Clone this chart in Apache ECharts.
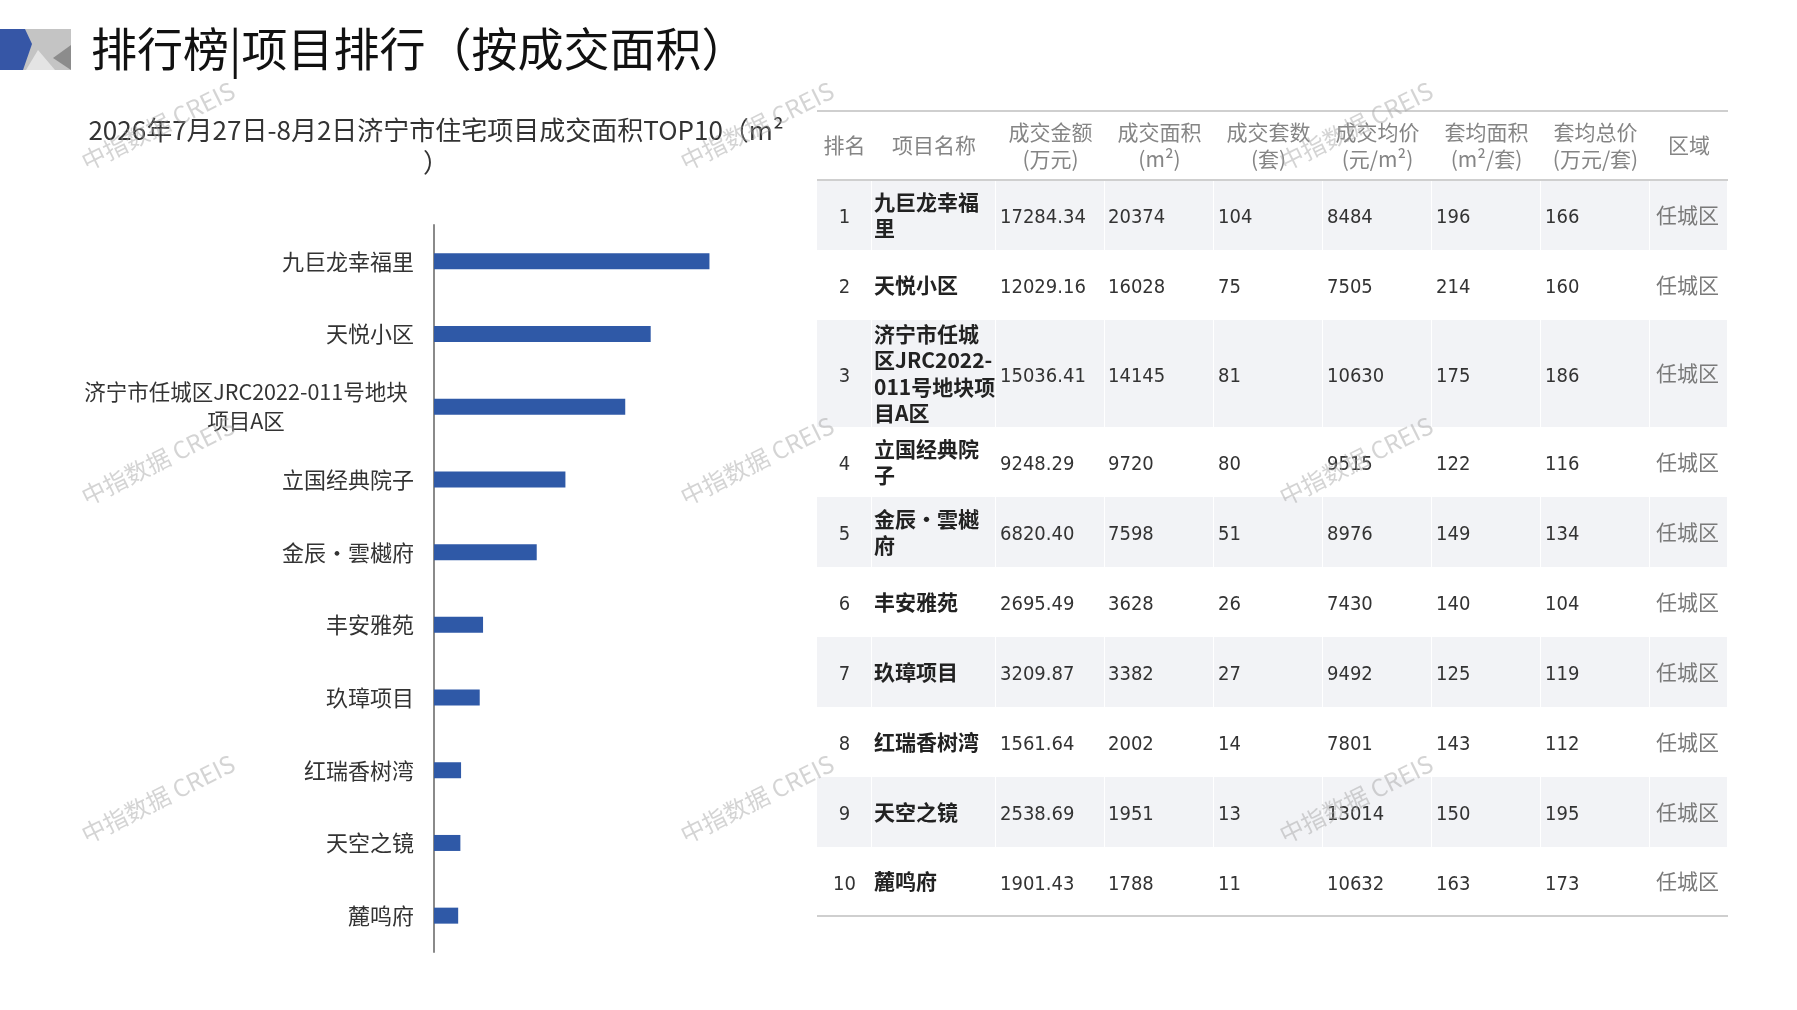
<!DOCTYPE html>
<html>
<head>
<meta charset="utf-8">
<title>济宁市住宅项目成交面积TOP10</title>
<script src="https://cdn.jsdelivr.net/npm/echarts@6/dist/echarts.min.js"></script>
<style>
  html, body { margin: 0; padding: 0; background: #fff; }
  #main { width: 1797px; height: 1010px; }
</style>
</head>
<body>
<div id="main"></div>
<script>
const chart = echarts.init(document.getElementById("main"));

const CJK = "'Noto Sans CJK SC', sans-serif";
const NUM = "'Liberation Sans Narrow', 'DejaVu Sans Condensed', 'Noto Sans CJK SC', sans-serif";

// 项目（柱状图类目）
const projects = ["九巨龙幸福里", "天悦小区", "济宁市任城区JRC2022-011号地块项目A区", "立国经典院子", "金辰·雲樾府",
  "丰安雅苑", "玖璋项目", "红瑞香树湾", "天空之镜", "麓鸣府"];
// 表格里的项目名称（按原表换行）
const tableNames = ["九巨龙幸福\n里", "天悦小区", "济宁市任城\n区JRC2022-\n011号地块项\n目A区", "立国经典院\n子", "金辰·雲樾\n府",
  "丰安雅苑", "玖璋项目", "红瑞香树湾", "天空之镜", "麓鸣府"];
const amount = ["17284.34", "12029.16", "15036.41", "9248.29", "6820.40", "2695.49", "3209.87", "1561.64", "2538.69", "1901.43"];
const area = [20374, 16028, 14145, 9720, 7598, 3628, 3382, 2002, 1951, 1788];
const units = [104, 75, 81, 80, 51, 26, 27, 14, 13, 11];
const avgPrice = [8484, 7505, 10630, 9515, 8976, 7430, 9492, 7801, 13014, 10632];
const avgArea = [196, 214, 175, 122, 149, 140, 125, 143, 150, 163];
const avgTotal = [166, 160, 186, 116, 134, 104, 119, 112, 195, 173];
const district = ["任城区", "任城区", "任城区", "任城区", "任城区", "任城区", "任城区", "任城区", "任城区", "任城区"];
const headers = ["排名", "项目名称", "成交金额\n(万元)", "成交面积\n(m²)", "成交套数\n(套)", "成交均价\n(元/m²)",
  "套均面积\n(m²/套)", "套均总价\n(万元/套)", "区域"];

// 表格布局（像素单位）
const colEdges = [0, 55, 179, 288, 397, 506, 615, 724, 833, 911];
const textX = [27, 57, 183, 291, 401, 510, 619, 728, 839];
const headerH = 69;
const rowHeights = [70, 70, 107, 70, 70, 70, 70, 70, 70, 69];
const rowTops = [headerH];
rowHeights.forEach((h, i) => rowTops.push(rowTops[i] + h));
const tableH = rowTops[rowTops.length - 1];
const tableW = colEdges[colEdges.length - 1];

// 单元格
const cells = [];
headers.forEach((h, c) => cells.push({ col: c, row: -1, text: h }));
for (let r = 0; r < projects.length; r++) {
  const vals = [String(r + 1), tableNames[r], amount[r], area[r], units[r], avgPrice[r], avgArea[r], avgTotal[r], district[r]];
  vals.forEach((v, c) => cells.push({ col: c, row: r, text: String(v) }));
}

function cellStyle(cell) {
  if (cell.row < 0) {
    return { font: CJK, size: 21, color: "#858585", weight: "normal", align: "center", lh: 27, dy: 0 };
  }
  if (cell.col === 1) return { font: CJK, size: 21, color: "#222", weight: "bold", align: "left", lh: 26.5, dy: 0 };
  if (cell.col === 8) return { font: CJK, size: 21, color: "#7a7a7a", weight: "normal", align: "left", lh: 27, dy: 0 };
  if (cell.col === 0) return { font: NUM, size: 20, color: "#333", weight: "normal", align: "center", lh: 27, dy: 3 };
  return { font: NUM, size: 20, color: "#333", weight: "normal", align: "left", lh: 27, dy: 3 };
}

function renderCell(params, api) {
  const cell = cells[params.dataIndex];
  const st = cellStyle(cell);
  const top = cell.row < 0 ? 0 : rowTops[cell.row];
  const bottom = cell.row < 0 ? headerH : rowTops[cell.row + 1];
  const x = st.align === "center" ? (colEdges[cell.col] + colEdges[cell.col + 1]) / 2 : textX[cell.col];
  const p = api.coord([x, (top + bottom) / 2]);
  return {
    type: "text",
    style: {
      x: p[0], y: p[1] + st.dy, text: cell.text, fill: st.color,
      font: st.weight + " " + st.size + "px " + st.font,
      align: st.align, verticalAlign: "middle", lineHeight: st.lh
    }
  };
}

// 斑马纹背景
const bgCells = [];
for (let r = 0; r < projects.length; r += 2) {
  for (let c = 0; c < headers.length; c++) bgCells.push([c, r]);
}
function renderBg(params, api) {
  const d = bgCells[params.dataIndex];
  const p0 = api.coord([colEdges[d[0]], rowTops[d[1]]]);
  const p1 = api.coord([colEdges[d[0] + 1], rowTops[d[1] + 1]]);
  return {
    type: "rect",
    shape: { x: p0[0], y: p0[1], width: p1[0] - p0[0] - 1, height: p1[1] - p0[1] },
    style: { fill: "#f2f3f6" }
  };
}

// 表格横线
const ruleRows = [0, headerH, tableH];
function renderRule(params, api) {
  const y = ruleRows[params.dataIndex];
  const p0 = api.coord([0, y]);
  const p1 = api.coord([tableW, y]);
  return {
    type: "line",
    shape: { x1: p0[0], y1: p0[1], x2: p1[0], y2: p1[1] },
    style: { stroke: "#cfcfcf", lineWidth: 2 }
  };
}

// 水印
const marks = [];
[158, 757, 1356].forEach(x => [126, 461, 799].forEach(y => marks.push({
  type: "text", x: x, y: y, rotation: 0.46, z: 100,
  style: { text: "中指数据 CREIS", font: "24px " + CJK, fill: "rgba(160,160,160,0.45)", align: "center", verticalAlign: "middle" }
})));

const option = {
  animation: false,
  backgroundColor: "#fff",
  graphic: [
    { type: "rect", shape: { x: 0, y: 29, width: 71, height: 41 }, style: { fill: "#c4c4c4" } },
    { type: "polygon", shape: { points: [[26, 70], [38, 50], [55, 70]] }, style: { fill: "#e4e4e4" } },
    { type: "polygon", shape: { points: [[71, 45], [71, 70], [53, 58]] }, style: { fill: "#8c8c8c" } },
    { type: "polygon", shape: { points: [[0, 29], [25, 29], [32, 44], [23, 70], [0, 70]] }, style: { fill: "#3656a6" } },
    {
      type: "text", x: 91, y: 49,
      style: { text: "排行榜|项目排行（按成交面积）", font: "46px " + CJK, fill: "#111", verticalAlign: "middle" }
    },
    {
      type: "text", x: 436, y: 146,
      style: {
        text: "2026年7月27日-8月2日济宁市住宅项目成交面积TOP10（m²\n）",
        font: "26px " + CJK, fill: "#333", align: "center", verticalAlign: "middle", lineHeight: 32
      }
    },
    ...marks
  ],
  grid: [
    { left: 434, top: 225, width: 338, height: 727 },
    { left: 817, top: 111, width: tableW, height: tableH }
  ],
  xAxis: [
    { type: "value", gridIndex: 0, min: 0, max: 25000, show: false },
    { type: "value", gridIndex: 1, min: 0, max: tableW, show: false }
  ],
  yAxis: [
    {
      type: "category", gridIndex: 0, inverse: true, data: projects,
      axisLine: { lineStyle: { color: "#8a8a8a", width: 2 } },
      axisTick: { inside: true, length: 6, lineStyle: { color: "#8a8a8a", width: 2 } },
      axisLabel: {
        fontSize: 22, color: "#333", margin: 20, fontFamily: CJK,
        formatter: v => v.length > 20 ? "{c|" + v.slice(0, 20) + "}\n{c|" + v.slice(20) + "}" : v,
        rich: { c: { width: 336, align: "center", fontSize: 21.5, lineHeight: 29, color: "#333", fontFamily: CJK } }
      }
    },
    { type: "value", gridIndex: 1, min: 0, max: tableH, inverse: true, show: false }
  ],
  series: [
    {
      name: "成交面积", type: "bar", xAxisIndex: 0, yAxisIndex: 0,
      data: area, barWidth: 16,
      itemStyle: { color: "#2f59a7" }
    },
    {
      type: "custom", xAxisIndex: 1, yAxisIndex: 1, clip: false, silent: true, z: 1,
      data: bgCells, renderItem: renderBg
    },
    {
      type: "custom", xAxisIndex: 1, yAxisIndex: 1, clip: false, silent: true, z: 2,
      data: ruleRows.map(y => [0, y]), renderItem: renderRule
    },
    {
      type: "custom", xAxisIndex: 1, yAxisIndex: 1, clip: false, silent: true, z: 3,
      data: cells.map(c => [c.col, c.row]), renderItem: renderCell
    }
  ]
};

chart.setOption(option);
</script>
</body>
</html>
